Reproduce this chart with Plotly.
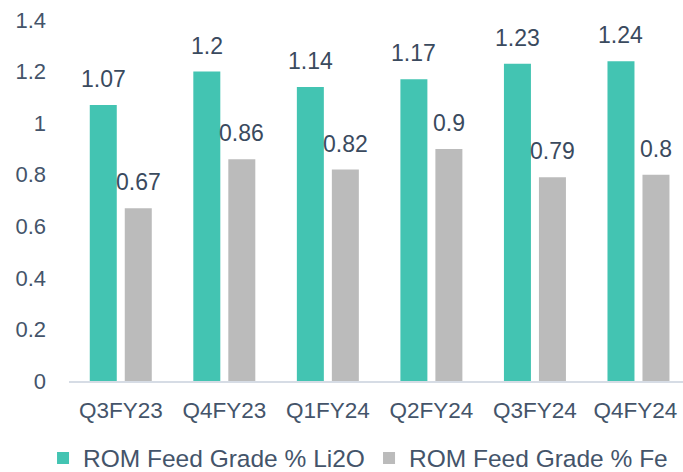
import plotly.graph_objects as go

categories = ["Q3FY23", "Q4FY23", "Q1FY24", "Q2FY24", "Q3FY24", "Q4FY24"]
li2o = [1.07, 1.2, 1.14, 1.17, 1.23, 1.24]
fe = [0.67, 0.86, 0.82, 0.9, 0.79, 0.8]
series_names = ["ROM Feed Grade % Li2O", "ROM Feed Grade % Fe"]
y_ticks = [0, 0.2, 0.4, 0.6, 0.8, 1.0, 1.2, 1.4]
y_ticktext = ["0", "0.2", "0.4", "0.6", "0.8", "1", "1.2", "1.4"]
# last label nudged left (trailing no-break space) so it stays inside the window
x_ticktext = categories[:-1] + [categories[-1] + "\u00a0"]

TEAL = "#43C4B2"
GREY = "#BBBBBB"
AXIS_TXT = "#44546A"
LBL_TXT = "#3A4A5E"
FONT = "Arial, Liberation Sans, sans-serif"

fig = go.Figure()
fig.add_trace(go.Bar(x=categories, y=li2o, name=series_names[0], marker_color=TEAL,
                     marker_line_width=0))
fig.add_trace(go.Bar(x=categories, y=fe, name=series_names[1], marker_color=GREY,
                     marker_line_width=0))

def fmt(v):
    return f"{v:.2f}".rstrip("0").rstrip(".")

for vals, shift in ((li2o, -17.5), (fe, 17.5)):
    for c, v in zip(categories, vals):
        fig.add_annotation(x=c, y=v, xref="x", yref="y", text=fmt(v), showarrow=False,
                           xshift=shift, yshift=11, yanchor="bottom",
                           font=dict(family=FONT, size=23, color=LBL_TXT))

fig.update_layout(
    width=683, height=472,
    margin=dict(l=69, r=0, t=20, b=91, autoexpand=False),
    paper_bgcolor="white", plot_bgcolor="white",
    barmode="group", bargap=0.324, bargroupgap=0.2286,
    font=dict(family=FONT, size=22, color=AXIS_TXT),
    showlegend=True,
    legend=dict(orientation="h", x=-0.0423, xanchor="left", y=-0.151, yanchor="top",
                font=dict(family=FONT, size=24.5, color=AXIS_TXT),
                itemwidth=30, traceorder="normal", entrywidth=281, entrywidthmode="pixels"),
)
fig.update_xaxes(range=[-0.5, 5.43], showline=True, linecolor="#D6DCE5", linewidth=2,
                 ticks="", showgrid=False, ticklabelstandoff=8, automargin=False,
                 tickmode="array", tickvals=categories, ticktext=x_ticktext,
                 tickfont=dict(family=FONT, size=22.5, color=AXIS_TXT))
fig.update_yaxes(range=[0, 1.4], tickvals=y_ticks, ticktext=y_ticktext, showgrid=False,
                 zeroline=False, showline=False, ticks="", ticklabelstandoff=22,
                 automargin=False,
                 tickfont=dict(family=FONT, size=22, color=AXIS_TXT))

fig.write_html("out.html", post_script="document.body.style.margin='0px';",
               config={"displayModeBar": False})
